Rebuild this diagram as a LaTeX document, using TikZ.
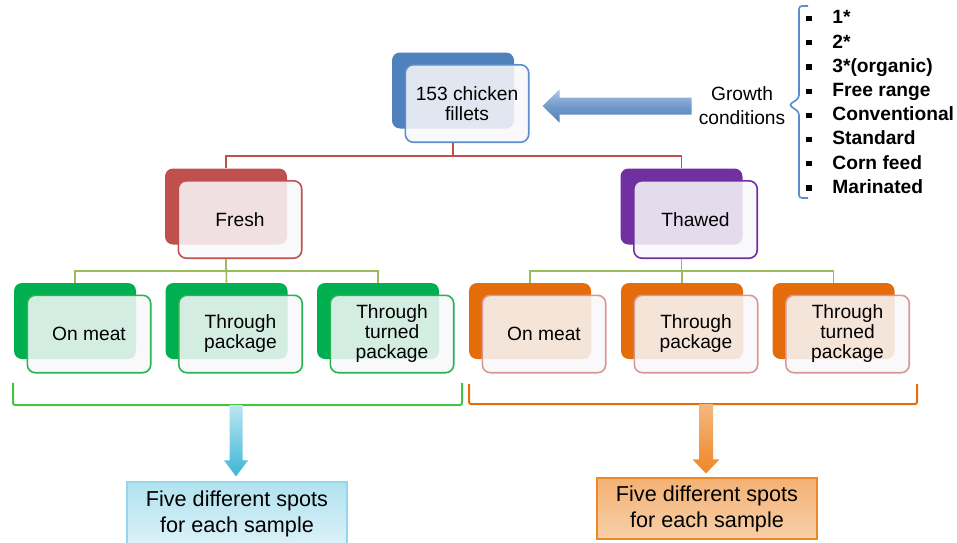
\documentclass[tikz,border=0pt]{standalone}
\usepackage{fontspec}
\setmainfont{Liberation Sans}
\usetikzlibrary{positioning, calc}

\definecolor{topblue}{RGB}{79,129,189}
\definecolor{freshred}{RGB}{192,80,77}
\definecolor{thawpurple}{RGB}{112,48,160}
\definecolor{leafgreen}{RGB}{0,176,80}
\definecolor{leaforange}{RGB}{228,108,10}
\definecolor{linkgreen}{RGB}{155,187,89}
\definecolor{brkgreen}{RGB}{70,195,70}
\definecolor{edgeblue}{RGB}{91,140,205}
\definecolor{edgegreen}{RGB}{40,180,80}
\definecolor{edgepink}{RGB}{217,150,148}
\definecolor{spotcyan}{RGB}{60,182,216}
\definecolor{spotorange}{RGB}{238,135,40}
\definecolor{cardwhite}{RGB}{248,248,250}

\newcommand{\sqbullet}{\makebox[13pt][l]{\rule[0.25ex]{2.6pt}{2.6pt}}}

\begin{document}
\begin{tikzpicture}[x=0.5pt, y=-0.5pt,
  font=\fontsize{9.6}{10}\selectfont,
  cardbg/.style={rectangle, rounded corners=4pt, minimum width=61pt,
    minimum height=38pt, fill=#1, inner sep=0pt},
  card/.style={rectangle, rounded corners=4pt, minimum width=61.7pt,
    minimum height=38.7pt, draw=#1, line width=0.8pt, fill=cardwhite,
    fill opacity=0.86, text opacity=1, draw opacity=1, align=center, inner sep=2pt},
  branch/.style={draw=#1, line width=0.8pt},
  brk/.style={draw=#1, line width=1pt, rounded corners=1pt},
  spots/.style={rectangle, minimum width=110pt, align=center, draw=#1,
    line width=0.6pt, font=\fontsize{10.8}{13}\selectfont}]

  \useasboundingbox (0,0) rectangle (957,542);

  % top level
  \node[cardbg=topblue] (chickbg) at (453,90.5) {};
  \node[card=edgeblue] (chick) at ([shift={(14,13)}]chickbg.center) {153 chicken\\fillets};

  % second level
  \node[cardbg=freshred] (freshbg) at (226,206.5) {};
  \node[card=freshred] (fresh) at ([shift={(14,13)}]freshbg.center) {Fresh};
  \node[cardbg=thawpurple] (thawbg) at (681.5,206.5) {};
  \node[card=thawpurple] (thaw) at ([shift={(14,13)}]thawbg.center) {Thawed};

  % fresh samples
  \node[cardbg=leafgreen] (fmeatbg) at (75,321) {};
  \node[card=edgegreen] (fmeat) at ([shift={(14,13)}]fmeatbg.center) {On meat};
  \node[cardbg=leafgreen] (fpackbg) at (226.5,321) {};
  \node[card=edgegreen] (fpack) at ([shift={(14,13)}]fpackbg.center) {Through\\package};
  \node[cardbg=leafgreen] (fturnbg) at (378,321) {};
  \node[card=edgegreen] (fturn) at ([shift={(14,13)}]fturnbg.center) {Through\\turned\\package};

  % thawed samples
  \node[cardbg=leaforange] (tmeatbg) at (530,321) {};
  \node[card=edgepink] (tmeat) at ([shift={(14,13)}]tmeatbg.center) {On meat};
  \node[cardbg=leaforange] (tpackbg) at (682,321) {};
  \node[card=edgepink] (tpack) at ([shift={(14,13)}]tpackbg.center) {Through\\package};
  \node[cardbg=leaforange] (tturnbg) at (833.5,321) {};
  \node[card=edgepink] (tturn) at ([shift={(14,13)}]tturnbg.center) {Through\\turned\\package};

  % tree lines
  \draw[branch=freshred] (chickbg |- chick.south) -- ++(0,13) -| (freshbg.north);
  \draw[branch=freshred] (chickbg |- chick.south) -- ++(0,13) -| (thawbg.north);
  \draw[branch=linkgreen] (freshbg |- fresh.south) -- ++(0,12) -| (fmeatbg.north);
  \draw[branch=linkgreen] (freshbg |- fresh.south) -- (fpackbg.north);
  \draw[branch=linkgreen] (freshbg |- fresh.south) -- ++(0,12) -| (fturnbg.north);
  \draw[branch=linkgreen] (thawbg |- thaw.south) -- ++(0,12) -| (tmeatbg.north);
  \draw[branch=linkgreen] (thawbg |- thaw.south) -- ++(0,12) -| (tpackbg.north);
  \draw[branch=linkgreen] (thawbg |- thaw.south) -- ++(0,12) -| (tturnbg.north);

  % growth conditions
  \node[align=center, font=\fontsize{9.6}{12}\selectfont] (growth) at (742,106) {Growth\\conditions};
  \node[anchor=west, align=left, inner sep=0pt, font=\bfseries\fontsize{9.6}{12.1}\selectfont] (grades) at (806,102)
    {\sqbullet 1*\\ \sqbullet 2*\\ \sqbullet 3*(organic)\\ \sqbullet Free range\\
     \sqbullet Conventional\\ \sqbullet Standard\\ \sqbullet Corn feed\\ \sqbullet Marinated};
  \draw[draw=edgeblue, line width=0.8pt, rounded corners=1.5pt]
    (808,6) -- (799,6) -- (799,98) -- (789,105) -- (799,112) -- (799,198) -- (808,198);
  \shade[top color=topblue!45!white, bottom color=topblue, middle color=topblue!80!white]
    let \p1 = (growth.west), \p2 = ([xshift=6.5pt]chick.east) in
    (\x1,\y1+4.25pt) -- (\x2+8.5pt,\y1+4.25pt) -- (\x2+8.5pt,\y1+8.25pt) -- (\x2,\y1)
    -- (\x2+8.5pt,\y1-8.25pt) -- (\x2+8.5pt,\y1-4.25pt) -- (\x1,\y1-4.25pt) -- cycle;

  % brackets
  \draw[brk=brkgreen] (13,383) |- (462,405) -- (462,383);
  \draw[brk=leaforange] (469,384) |- (917,404) -- (917,384);
  \coordinate (gfoot) at (236,405);
  \coordinate (ofoot) at (706,404);

  % spots
  \node[spots=spotcyan!55!white, top color=spotcyan!40!white, bottom color=spotcyan!18!white,
    minimum height=32pt] (gspots) at (237,514) {Five different spots\\for each sample};
  \node[spots=spotorange, top color=spotorange!65!white, bottom color=spotorange!40!white,
    minimum height=30.5pt] (ospots) at (707,508.5) {Five different spots\\for each sample};

  \shade[top color=spotcyan!35!white, bottom color=spotcyan]
    let \p1 = (gfoot), \p2 = ([yshift=2.5pt]gspots.north) in
    (\x1-3.25pt,\y1) -- (\x1-3.25pt,\y2+8pt) -- (\x1-6pt,\y2+8pt) -- (\x1,\y2)
    -- (\x1+6pt,\y2+8pt) -- (\x1+3.25pt,\y2+8pt) -- (\x1+3.25pt,\y1) -- cycle;
  \shade[top color=spotorange!60!white, bottom color=spotorange]
    let \p1 = (ofoot), \p2 = ([yshift=2pt]ospots.north) in
    (\x1-3.5pt,\y1) -- (\x1-3.5pt,\y2+7pt) -- (\x1-6.75pt,\y2+7pt) -- (\x1,\y2)
    -- (\x1+6.75pt,\y2+7pt) -- (\x1+3.5pt,\y2+7pt) -- (\x1+3.5pt,\y1) -- cycle;
\end{tikzpicture}
\end{document}
